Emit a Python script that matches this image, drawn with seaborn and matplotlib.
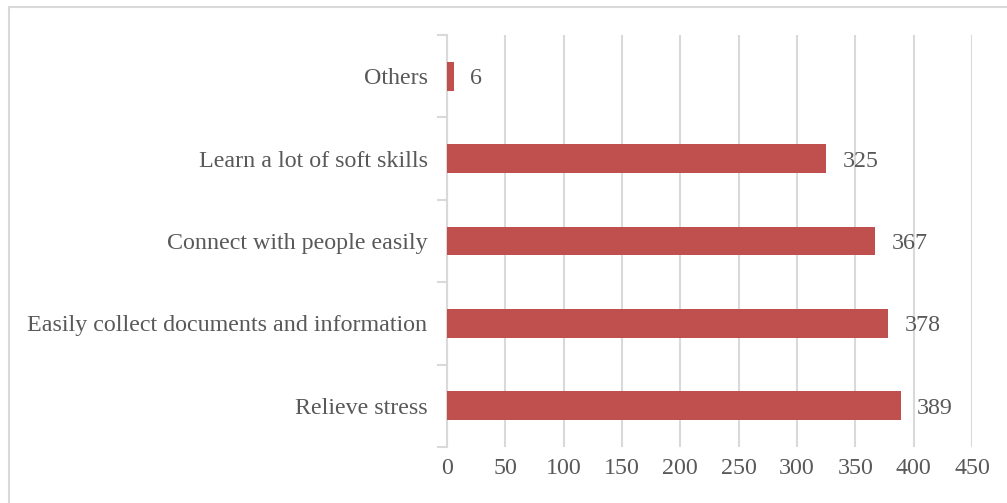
import matplotlib
matplotlib.use("Agg")
import matplotlib.pyplot as plt
import seaborn as sns
import pandas as pd
from matplotlib.patches import Rectangle

categories = [
    "Others",
    "Learn a lot of soft skills",
    "Connect with people easily",
    "Easily collect documents and information",
    "Relieve stress",
]
counts = [6, 325, 367, 378, 389]
x_ticks = [0, 50, 100, 150, 200, 250, 300, 350, 400, 450]

sns.set_theme(style="white")
plt.rcParams["font.family"] = ["Liberation Serif", "DejaVu Serif"]

text_color = "#595959"
grid_color = "#D9D9D9"
bar_color = "#C0504D"
fs = 17.3

df = pd.DataFrame({"category": categories, "count": counts})

fig = plt.figure(figsize=(10.07, 5.03), dpi=100)
ax = fig.add_axes([447 / 1007, 1 - 447 / 503, 525 / 1007, 412 / 503])

sns.barplot(data=df, y="category", x="count", order=categories,
            color=bar_color, saturation=1, width=0.35, linewidth=0,
            ax=ax, zorder=3)

ax.set_xlim(0, 450)
ax.set_ylim(4.5, -0.5)
ax.set_xticks(x_ticks)
ax.set_xlabel("")
ax.set_ylabel("")

ax.grid(axis="x", color=grid_color, linewidth=1.5, zorder=0)
ax.grid(axis="y", visible=False)
for side in ["top", "right", "bottom"]:
    ax.spines[side].set_visible(False)
ax.spines["left"].set_color(grid_color)
ax.spines["left"].set_linewidth(1.5)

ax.set_yticks([i - 0.5 for i in range(len(categories) + 1)], minor=True)
ax.tick_params(axis="y", which="minor", length=7, width=1.5, color=grid_color, left=True)
ax.tick_params(axis="y", which="major", length=0, pad=14, labelsize=fs, labelcolor=text_color)
ax.tick_params(axis="x", which="major", length=0, pad=8, labelsize=fs, labelcolor=text_color)

for i, v in enumerate(counts):
    ax.text(v + 14, i + 0.03, str(v), va="center", ha="left",
            fontsize=fs, color=text_color, zorder=4)

# thin frame around the chart area
fig.patches.append(Rectangle((8.5 / 1007, -0.05), 1.1, 1 - 6.5 / 503 + 0.05,
                             transform=fig.transFigure, fill=False,
                             edgecolor="#D9D9D9", linewidth=1.5))

fig.savefig("out.png", dpi=100)
